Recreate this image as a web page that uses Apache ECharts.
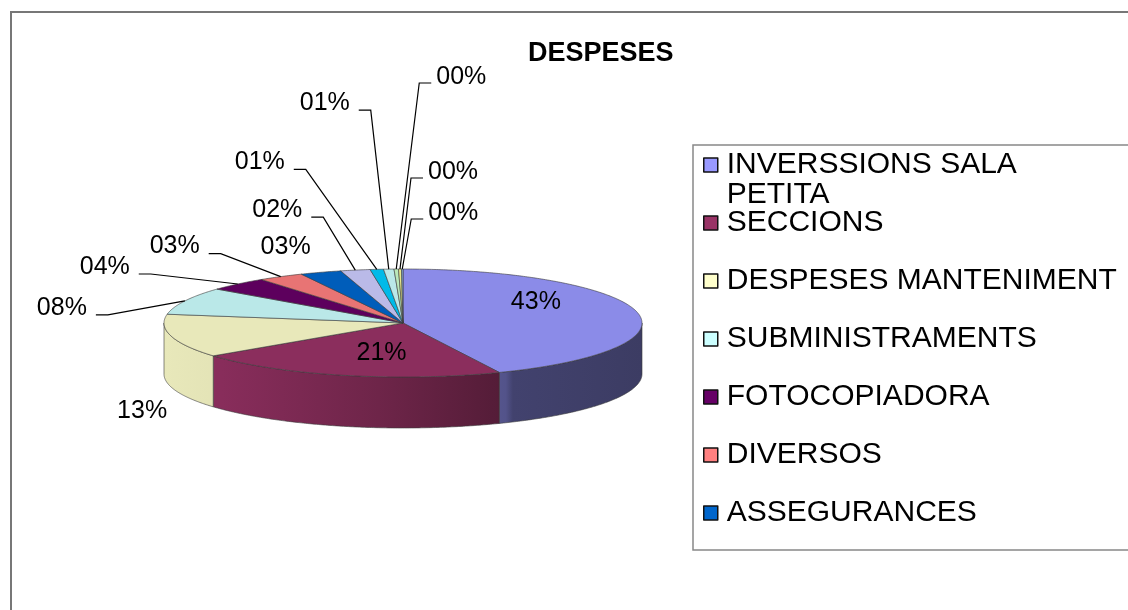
<!DOCTYPE html>
<html>
<head>
<meta charset="utf-8">
<script src="https://cdn.jsdelivr.net/npm/echarts@6/dist/echarts.min.js"></script>
<style>
  html, body { margin: 0; padding: 0; background: #fff; }
  #chart { width: 1128px; height: 610px; }
</style>
</head>
<body>
<div id="chart"></div>
<script>
// slices, clockwise from 12 o'clock
const categories = [
  'INVERSSIONS SALA PETITA', 'SECCIONS', 'DESPESES MANTENIMENT', 'SUBMINISTRAMENTS',
  'FOTOCOPIADORA', 'DIVERSOS', 'ASSEGURANCES', 'PARTIDA 8', 'PARTIDA 9',
  'PARTIDA 10', 'PARTIDA 11', 'PARTIDA 12', 'PARTIDA 13'
]
const values = [43.4, 21.2, 13.0, 8.2, 4.1, 3.1, 2.8, 2.0, 0.9, 0.7, 0.3, 0.2, 0.1]
const legendNames = categories.slice(0, 7)

// excel palette
const colors = ['#9999FF', '#993366', '#FFFFCC', '#CCFFFF', '#660066', '#FF8080', '#0066CC',
  '#CCCCFF', '#00CCFF', '#CCFFFF', '#CCFFCC', '#FFFF99', '#99CCFF']

// label offset from the slice's rim point [dx, dy, leader line]
const labelLayout = [
  [-101, -10, false], [38, -22, false], [-29, 75, false], [-123, 7, true],
  [-133, -17, true], [-106, -30, true], [-35, -25, false], [-78, -60, true],
  [-117, -107, true], [-64, -166, true], [65, -192, true], [53, -97, true], [51, -56, true]
]

const CX = 403, CY = 323, RX = 239, RY = 54, DEPTH = 51
const FONT = "'Liberation Sans', Arial, sans-serif"
const LABEL_SIZE = 25

const total = values.reduce((a, b) => a + b, 0)
const starts = []
let acc = 0
values.forEach(v => { starts.push(acc / total); acc += v })

function shade(hex, f) {
  const n = parseInt(hex.slice(1), 16)
  const r = Math.round(((n >> 16) & 255) * f)
  const g = Math.round(((n >> 8) & 255) * f)
  const b = Math.round((n & 255) * f)
  return 'rgb(' + r + ',' + g + ',' + b + ')'
}

function rim(t, dy) {
  return [CX + RX * Math.sin(t), CY - RY * Math.cos(t) + (dy || 0)]
}

function arc(a0, a1, dy) {
  const pts = []
  const steps = Math.max(2, Math.ceil(Math.abs(a1 - a0) / 0.01))
  for (let k = 0; k <= steps; k++) {
    pts.push(rim(a0 + (a1 - a0) * k / steps, dy))
  }
  return pts
}

function renderSlice(params, api) {
  const i = params.dataIndex
  const v = api.value(0)
  const a0 = starts[i] * Math.PI * 2
  const a1 = a0 + v / total * Math.PI * 2
  const base = colors[i]
  const children = []

  // top face
  children.push({
    type: 'polygon',
    z2: 10,
    shape: { points: [[CX, CY]].concat(arc(a0, a1)) },
    style: { fill: shade(base, 0.91), stroke: '#3a3a3a', lineWidth: 0.6 }
  })

  // front wall
  const s0 = Math.max(a0, Math.PI / 2)
  const s1 = Math.min(a1, Math.PI * 1.5)
  if (s1 > s0) {
    const pts = arc(s0, s1).concat(arc(s1, s0, DEPTH))
    children.push({
      type: 'polygon',
      z2: 1,
      shape: { points: pts },
      style: {
        fill: new echarts.graphic.LinearGradient(CX - RX, 0, CX + RX, 0, [
          { offset: 0, color: shade(base, 0.91) },
          { offset: 0.12, color: shade(base, 0.89) },
          { offset: 0.45, color: shade(base, 0.72) },
          { offset: 0.715, color: shade(base, 0.54) },
          { offset: 0.73, color: shade(base, 0.43) },
          { offset: 1, color: shade(base, 0.39) }
        ], true),
        stroke: '#3a3a3a',
        lineWidth: 0.6
      }
    })
  }

  // label
  const mid = (a0 + a1) / 2
  const anchor = rim(mid)
  const lay = labelLayout[i]
  const lx = anchor[0] + lay[0]
  const ly = anchor[1] + lay[1]
  const pct = Math.round(v / total * 100)
  children.push({
    type: 'text',
    z2: 30,
    x: lx,
    y: ly,
    style: {
      text: (pct < 10 ? '0' : '') + pct + '%',
      fontSize: LABEL_SIZE,
      fontFamily: FONT,
      fill: '#000',
      align: 'center',
      verticalAlign: 'middle'
    }
  })
  if (lay[2]) {
    const half = LABEL_SIZE
    let p1, p2
    if (lay[0] < 0) {
      p1 = [lx + half + 9, ly + 7]
      p2 = [lx + half + 21, ly + 7]
    } else {
      p1 = [lx - half - 5, ly + 6]
      p2 = [lx - half - 17, ly + 6]
    }
    children.push({
      type: 'polyline',
      z2: 25,
      shape: { points: [p1, p2, anchor] },
      style: { stroke: '#000', lineWidth: 1.2, fill: null }
    })
  }

  return { type: 'group', children: children }
}

const wrapped = { 'INVERSSIONS SALA PETITA': 'INVERSSIONS SALA\nPETITA' }

const chart = echarts.init(document.getElementById('chart'))
chart.setOption({
  backgroundColor: '#fff',
  animation: false,
  title: {
    text: 'DESPESES',
    left: 523,
    top: 35,
    textStyle: { fontSize: 27, fontWeight: 'bold', fontFamily: FONT, color: '#000' }
  },
  legend: {
    orient: 'vertical',
    left: 703,
    top: 120,
    padding: 0,
    itemGap: -32,
    itemWidth: 14,
    itemHeight: 14,
    icon: 'rect',
    selectedMode: false,
    data: legendNames,
    itemStyle: { borderColor: '#111', borderWidth: 1.5 },
    formatter: function (name) {
      return '\n' + (wrapped[name] || name + '\n')
    },
    textStyle: {
      fontSize: 30,
      fontFamily: FONT,
      color: '#000',
      lineHeight: 30,
      padding: [0, 0, 0, 4]
    }
  },
  graphic: [
    {
      type: 'rect',
      shape: { x: 11, y: 12, width: 1200, height: 700 },
      style: { fill: null, stroke: '#777', lineWidth: 2 },
      silent: true
    },
    {
      type: 'rect',
      shape: { x: 693, y: 145, width: 500, height: 405 },
      style: { fill: null, stroke: '#888', lineWidth: 1.5 },
      silent: true
    }
  ],
  series: [
    {
      type: 'custom',
      name: 'DESPESES',
      coordinateSystem: 'none',
      renderItem: renderSlice,
      data: values.map((v, i) => ({ name: categories[i], value: [v] }))
    },
    {
      // only feeds the legend
      type: 'pie',
      name: 'legend',
      center: [-200, -200],
      radius: 0,
      silent: true,
      label: { show: false },
      labelLine: { show: false },
      data: values.map((v, i) => ({ name: categories[i], value: v, itemStyle: { color: colors[i] } }))
    }
  ]
})
</script>
</body>
</html>
